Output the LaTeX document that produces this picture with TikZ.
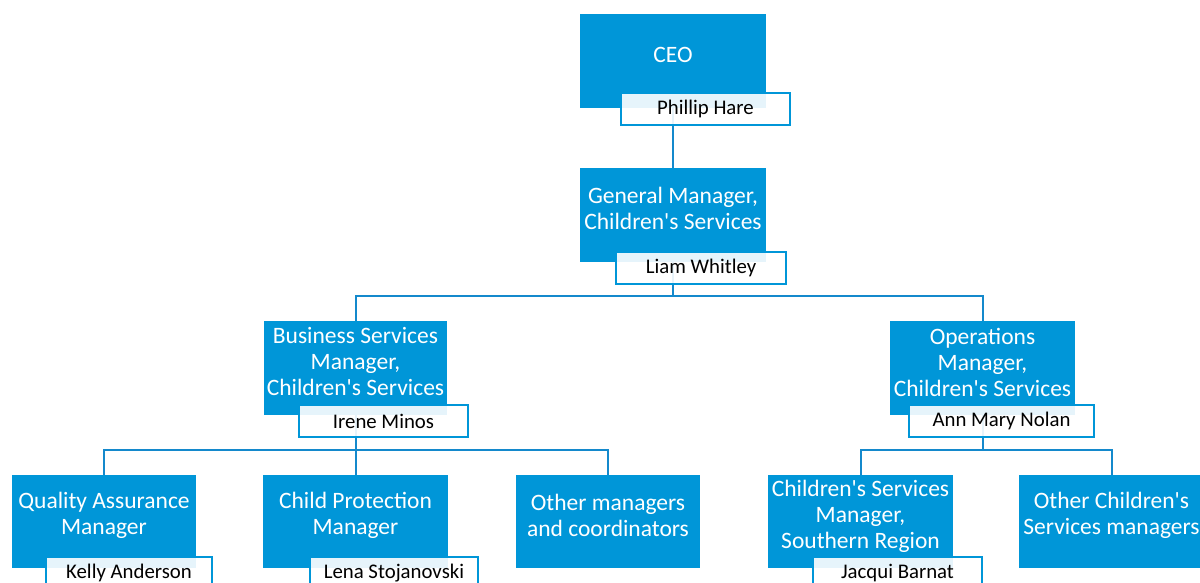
\documentclass[tikz,border=0pt]{standalone}
\usepackage{fontspec}
\setmainfont{Carlito}
\usetikzlibrary{backgrounds}
\definecolor{boxblue}{HTML}{0096D8}
\definecolor{lineblue}{HTML}{1489CC}
\newcommand{\apos}{\textquotesingle}
\begin{document}
\begin{tikzpicture}[x=1pt,y=-1pt,
  bluebox/.style={fill=boxblue, draw=none, inner sep=0pt},
  boxtext/.style={text=white, align=center, inner sep=0pt, font=\fontsize{23.5}{26}\selectfont},
  namebox/.style={fill=white, fill opacity=0.9, text opacity=1, draw=boxblue, line width=2pt,
    minimum width=#1, minimum height=32pt, inner sep=0pt, font=\fontsize{20.8}{24}\selectfont},
  namebox/.default=169pt,
  conn/.style={draw=lineblue, line width=2pt}]
\useasboundingbox (0,0) rectangle (1200,583);
\clip (0,0) rectangle (1200,583);
% blue boxes
\node[bluebox, minimum width=186pt, minimum height=94pt] (ceo) at (673,61) {};
\node[bluebox, minimum width=186pt, minimum height=94pt] (gm) at (673,215) {};
\node[bluebox, minimum width=183pt, minimum height=94pt] (bs) at (355.5,368) {};
\node[bluebox, minimum width=185pt, minimum height=94pt] (ops) at (982.5,368) {};
\node[bluebox, minimum width=184pt, minimum height=93pt] (qa) at (104,521.5) {};
\node[bluebox, minimum width=185pt, minimum height=93pt] (cp) at (355.5,521.5) {};
\node[bluebox, minimum width=184pt, minimum height=93pt] (oth) at (608,521.5) {};
\node[bluebox, minimum width=185pt, minimum height=93pt] (csm) at (860.5,521.5) {};
\node[bluebox, minimum width=185pt, minimum height=93pt] (och) at (1111.5,521.5) {};
% box texts
\node[boxtext] (ceoT) at (673,55) {CEO};
\node[boxtext] (gmT) at (673,208.5) {General Manager,\\Children\apos s Services};
\node[boxtext] (bsT) at (355.5,362) {Business Services\\Manager,\\Children\apos s Services};
\node[boxtext] (opsT) at (982.5,362) {Operations\\Manager,\\Children\apos s Services};
\node[boxtext] (qaT) at (104,515.5) {Quality Assurance\\Manager};
\node[boxtext] (cpT) at (355.5,515.5) {Child Protection\\Manager};
\node[boxtext] (othT) at (608,515.5) {Other managers\\and coordinators};
\node[boxtext] (csmT) at (860.5,516) {Children\apos s Services\\Manager,\\Southern Region};
\node[boxtext] (ochT) at (1111.5,515.5) {Other Children\apos s\\Services managers};
% junctions
\coordinate (j1) at (673,296);
\coordinate (j2) at (355.5,450);
\coordinate (j3) at (982.5,450);
% connectors behind
\begin{scope}[on background layer]
\draw[conn] (ceo) -- (gm);
\draw[conn] (gm) -- (j1);
\draw[conn] (j1) -| (bs);
\draw[conn] (j1) -| (ops);
\draw[conn] (bs) -- (j2);
\draw[conn] (j2) -| (qa);
\draw[conn] (j2) -- (cp);
\draw[conn] (j2) -| (oth);
\draw[conn] (ops) -- (j3);
\draw[conn] (j3) -| (csm);
\draw[conn] (j3) -| (och);
\end{scope}
% name boxes
\node[namebox] (ceoN) at (705.5,109) {Phillip Hare};
\node[namebox=170pt] (gmN) at (701,268) {Liam Whitley};
\node[namebox] (bsN) at (383.5,421) {Irene Minos};
\node[namebox=185pt] (opsN) at (1001.5,421) {Ann Mary Nolan};
\node[namebox=166pt] (qaN) at (129,573) {Kelly Anderson};
\node[namebox=168pt] (cpN) at (394,573) {Lena Stojanovski};
\node[namebox] (csmN) at (897.5,573) {Jacqui Barnat};
\end{tikzpicture}
\end{document}
